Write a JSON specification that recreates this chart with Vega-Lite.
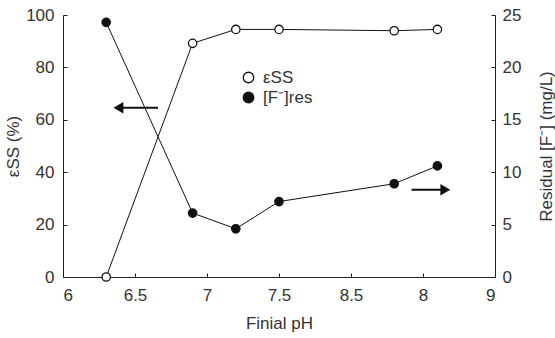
{
  "$schema": "https://vega.github.io/schema/vega-lite/v6.json",
  "width": 432,
  "height": 262,
  "autosize": {"type": "none"},
  "padding": {"left": 63, "top": 15, "right": 60, "bottom": 61},
  "background": "white",
  "config": {
    "view": {"stroke": null},
    "font": "Liberation Sans",
    "axis": {
      "grid": false,
      "domainColor": "#222",
      "tickColor": "#222",
      "tickSize": -4,
      "labelFont": "Liberation Sans",
      "labelFontSize": 17,
      "labelColor": "#333",
      "titleFont": "Liberation Sans",
      "titleFontSize": 17,
      "titleFontWeight": "normal",
      "titleColor": "#333"
    }
  },
  "datasets": {
    "main": [
      {"pH": 6.3, "eps": 0, "F": 24.3},
      {"pH": 6.9, "eps": 89.2, "F": 6.1},
      {"pH": 7.2, "eps": 94.5, "F": 4.6},
      {"pH": 7.5, "eps": 94.5, "F": 7.2},
      {"pH": 8.3, "eps": 94.0, "F": 8.9},
      {"pH": 8.6, "eps": 94.5, "F": 10.6}
    ],
    "arrows": [
      {"dir": "left", "xs": 6.41, "xe": 6.66, "y": 64.6, "tip": 6.385},
      {"dir": "right", "xs": 8.42, "xe": 8.63, "y": 33.3, "tip": 8.655}
    ]
  },
  "layer": [
    {
      "layer": [
        {
          "data": {"name": "main"},
          "mark": {"type": "line", "color": "#111", "strokeWidth": 1},
          "encoding": {
            "x": {"field": "pH", "type": "quantitative", "scale": {"domain": [6, 9], "nice": false},
              "axis": {"title": "Finial pH", "values": [6, 6.5, 7, 7.5, 8, 8.5, 9], "format": "~g",
                "labelExpr": "datum.value == 8 ? '8.5' : datum.value == 8.5 ? '8' : datum.label",
                "labelPadding": 14, "titlePadding": 12}},
            "y": {"field": "eps", "type": "quantitative", "scale": {"domain": [0, 100], "nice": false},
              "axis": {"title": "εSS (%)", "orient": "left", "values": [0, 20, 40, 60, 80, 100], "labelPadding": 13, "titlePadding": 3}}
          }
        },
        {
          "data": {"name": "main"},
          "mark": {"type": "point", "filled": false, "stroke": "#111", "strokeWidth": 1.3, "size": 70, "opacity": 1, "shape": "circle"},
          "encoding": {
            "x": {"field": "pH", "type": "quantitative"},
            "y": {"field": "eps", "type": "quantitative"},
            "fill": {"datum": "εSS", "type": "nominal",
              "scale": {"domain": ["εSS", "[F⁻]res"], "range": ["white", "#111"]},
              "legend": {"title": null, "orient": "none", "legendX": 177, "legendY": 54,
                "symbolType": "circle", "symbolSize": 110, "symbolStrokeColor": "#111", "symbolStrokeWidth": 1.3,
                "labelFontSize": 17, "labelColor": "#333", "labelFont": "Liberation Sans", "rowPadding": 2, "labelOffset": 6}}
          }
        },
        {
          "data": {"name": "arrows"},
          "mark": {"type": "rule", "color": "#111", "strokeWidth": 2},
          "encoding": {
            "x": {"field": "xs", "type": "quantitative"},
            "x2": {"field": "xe"},
            "y": {"field": "y", "type": "quantitative"}
          }
        },
        {
          "data": {"name": "arrows"},
          "mark": {"type": "point", "filled": true, "color": "#111", "size": 130, "opacity": 1},
          "encoding": {
            "x": {"field": "tip", "type": "quantitative"},
            "y": {"field": "y", "type": "quantitative"},
            "shape": {"field": "dir", "type": "nominal", "scale": {"domain": ["left", "right"], "range": ["triangle-left", "triangle-right"]}, "legend": null}
          }
        }
      ]
    },
    {
      "layer": [
        {
          "data": {"name": "main"},
          "mark": {"type": "line", "color": "#111", "strokeWidth": 1},
          "encoding": {
            "x": {"field": "pH", "type": "quantitative"},
            "y": {"field": "F", "type": "quantitative", "scale": {"domain": [0, 25], "nice": false},
              "axis": {"title": "Residual [F⁻] (mg/L)", "orient": "right", "titleAngle": 270, "values": [0, 5, 10, 15, 20, 25], "labelPadding": 11, "titlePadding": 35}}
          }
        },
        {
          "data": {"name": "main"},
          "mark": {"type": "point", "filled": true, "stroke": "#111", "strokeWidth": 1.3, "size": 70, "opacity": 1, "shape": "circle"},
          "encoding": {
            "x": {"field": "pH", "type": "quantitative"},
            "y": {"field": "F", "type": "quantitative"},
            "fill": {"datum": "[F⁻]res", "type": "nominal"}
          }
        }
      ]
    }
  ],
  "resolve": {"scale": {"y": "independent"}}
}
